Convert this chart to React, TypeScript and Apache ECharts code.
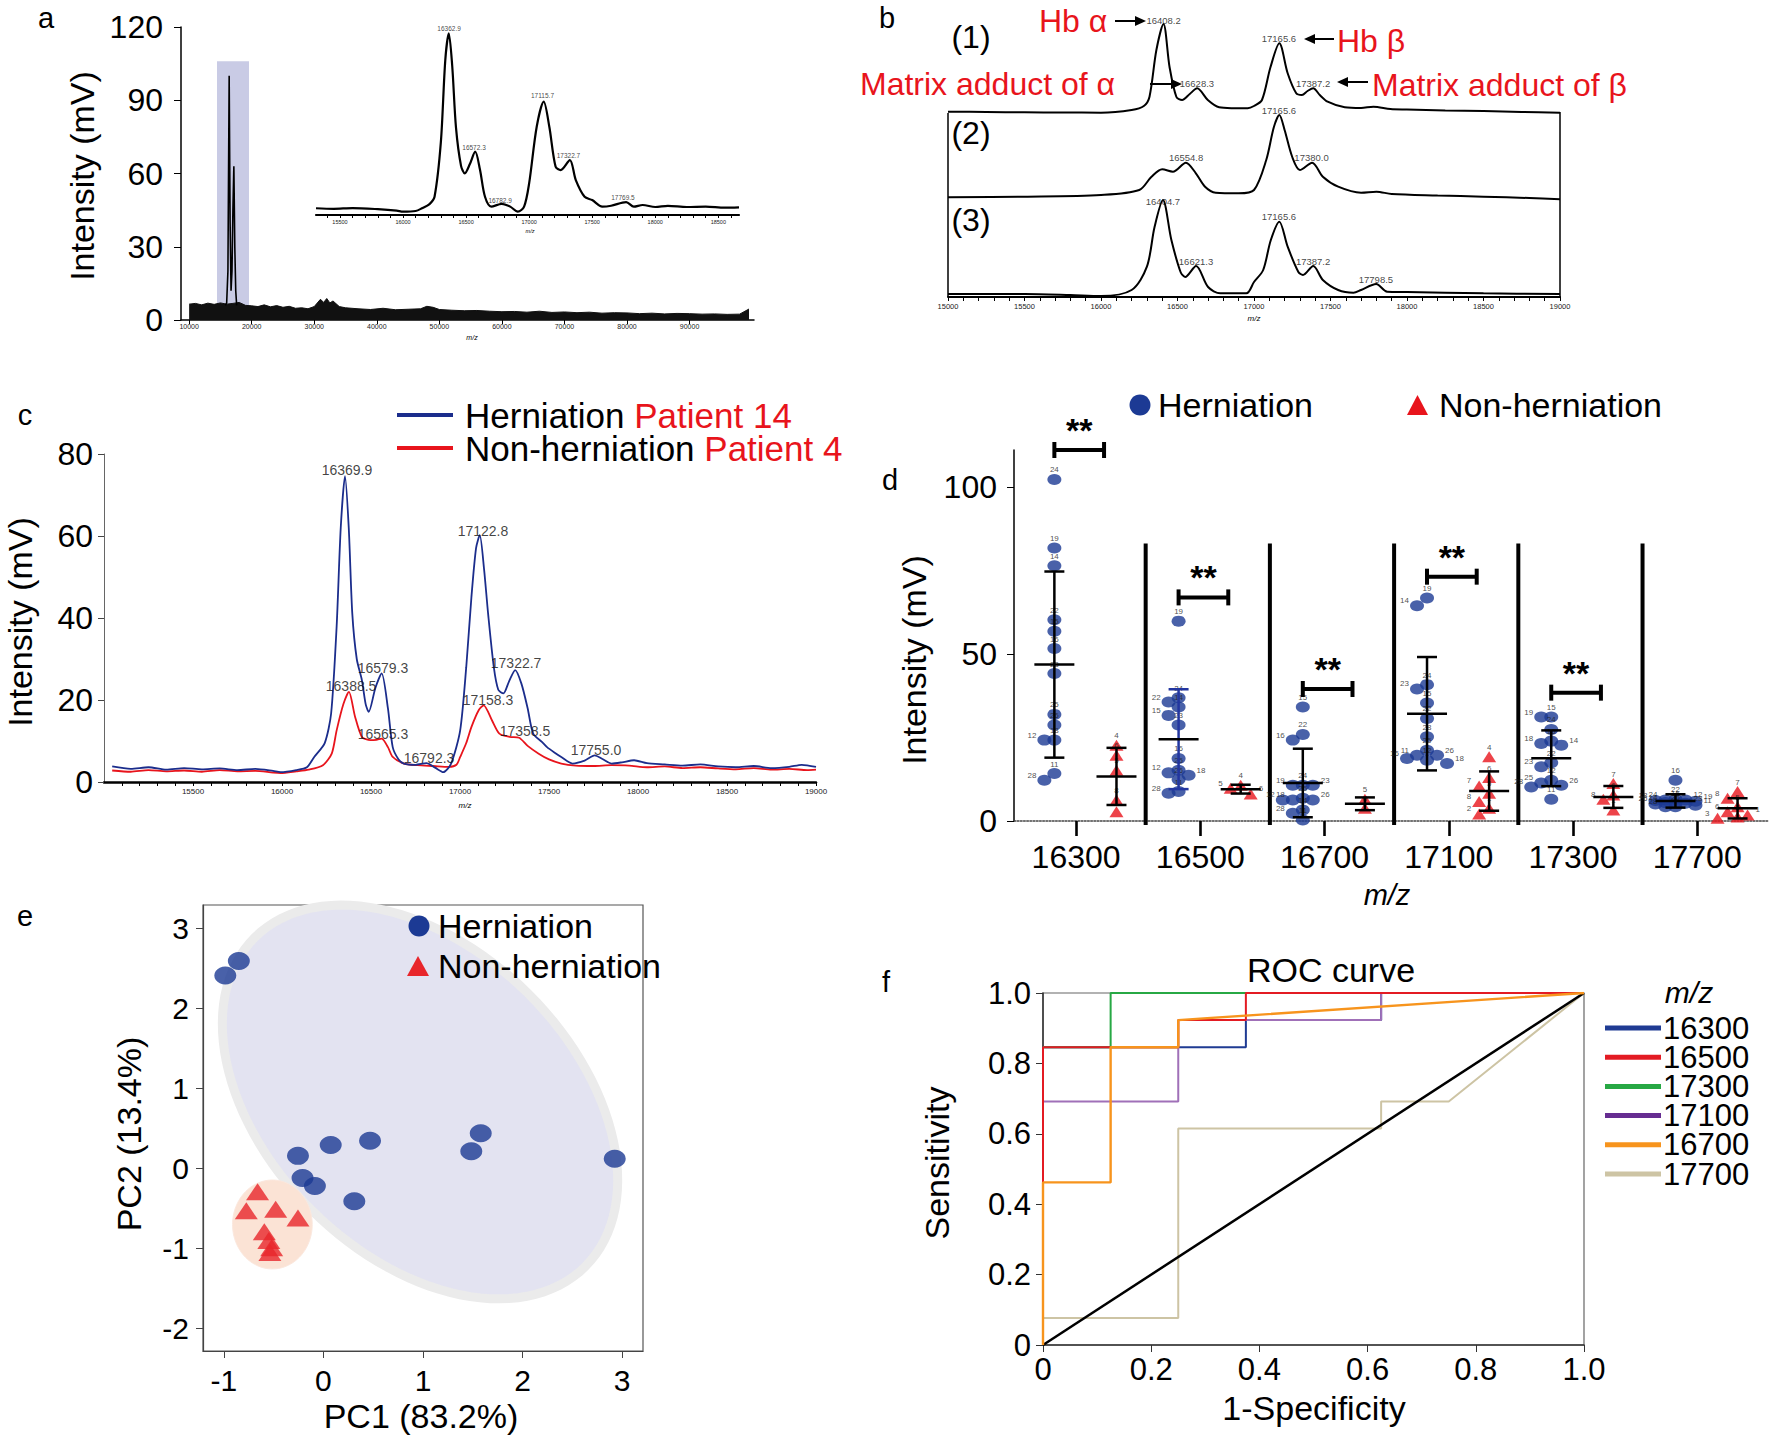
import React, { useEffect, useRef } from "react";
import * as echarts from "echarts";

const FONT = '"Liberation Sans", Arial, Helvetica, sans-serif';
const NAVY = "#1b2d8c";
const DOT = "#1c3a94";
const RED = "#e8141c";

// ---------- panel a : full-range spectrum ----------
const overviewBandMz = [10000,11000,12000,13000,14000,15000,16000,17000,18000,19000,20000,21000,22000,23000,24000,25000,26000,27000,28000,29000,30000,31000,31500,32000,32500,33000,34000,35000,37000,39000,41000,43000,45000,47000,48000,49000,50000,52000,54000,56000,58000,60000,62000,64000,66000,68000,70000,72000,74000,76000,78000,80000,82000,84000,86000,88000,90000,92000,94000,96000,98000,99500];
const overviewBandTop = [6.5,6.8,6.2,6.9,6.4,7.0,6.5,6.8,7.2,6.0,5.8,5.5,6.2,5.4,5.9,5.2,5.6,4.8,5.0,4.6,5.5,8.5,7.2,8.8,7.0,7.8,5.5,5.0,4.6,4.3,4.8,4.2,4.4,4.6,5.6,5.2,4.3,4.0,3.8,3.9,3.6,3.4,3.5,3.2,3.6,3.1,3.3,3.0,3.2,2.8,3.0,2.9,2.6,2.8,2.5,2.7,2.6,2.4,2.5,2.3,2.4,4.5];
const overviewPeaks = [[15800,6],[16000,7],[16200,20],[16400,100],[16550,40],[16700,12],[16850,20],[17000,45],[17150,63],[17300,30],[17450,12],[17600,6]];
const overviewTicks = [10000,20000,30000,40000,50000,60000,70000,80000,90000];
const highlightMz = [14455, 19571];
const highlightTop = 106;

// ---------- panel a : inset ----------
const insetSpectrum = [[15310,3.7],[15450,3.4],[15600,3.8],[15800,3.2],[15950,2.4],[16000,1.8],[16100,2.2],[16150,3.7],[16210,6],[16250,10],[16300,40],[16335,85],[16362.9,99.8],[16390,82],[16420,48],[16460,27],[16490,22.9],[16530,28],[16572.3,34.8],[16610,25],[16650,10],[16700,4.6],[16782.9,6.1],[16850,4.6],[16910,1.8],[16960,4.6],[17000,17.4],[17060,48.5],[17115.7,62.3],[17160,48.5],[17210,26.5],[17250,24.7],[17322.7,30.2],[17370,19.2],[17440,10],[17500,8.2],[17580,4.6],[17650,5.1],[17769.5,7.1],[17830,4.6],[17900,5.5],[18000,4.4],[18100,5.0],[18250,4.4],[18400,4.6],[18550,4.0],[18664,4.2]];
const insetPeakLabels = [[16365,102.5,"16362.9"],[16563,37,"16572.3"],[16770,8.2,"16782.9"],[17106,65.5,"17115.7"],[17312,32.5,"17322.7"],[17744,9.5,"17769.5"]];

// ---------- panel b : three spectra ----------
const spectrumB1 = [[15000,3.3],[15250,3],[15500,2.7],[15750,2.5],[16000,2.3],[16200,5],[16280,9],[16317,18.3],[16362,65],[16408.2,91],[16448,48],[16493,18],[16530,15],[16580,21],[16628.3,26.7],[16698,15],[16772,7.7],[16870,6.8],[16959,6.7],[17000,9],[17052,15],[17108,48],[17165.6,71.7],[17220,41.7],[17276,21.7],[17313,20],[17350,24],[17387.2,26.7],[17430,20],[17481,13.3],[17593,7.7],[17700,7],[17780,8.3],[17892,6],[18000,5.5],[18250,4.5],[18500,4],[18750,3],[19000,2.3]];
const spectrumB2 = [[15000,2.7],[15500,3.3],[16000,5],[16250,10],[16330,23.3],[16400,30.7],[16470,28.3],[16554.8,37.3],[16620,26.7],[16680,13.3],[16750,7.3],[16900,6.7],[17000,10],[17080,40],[17130,73],[17165.6,85],[17200,70],[17250,43],[17300,30],[17380,37.3],[17450,23.3],[17550,13.3],[17700,7.3],[17800,8.3],[17900,6],[18200,4.5],[18500,3.3],[18800,2],[19000,0.7]];
const spectrumB3 = [[15000,3],[15500,3],[15800,2],[16000,1],[16200,7],[16300,30.3],[16350,70],[16404.7,97],[16460,57],[16520,25],[16550,20],[16621.3,31],[16700,10],[16780,3.7],[16950,3.7],[17000,15],[17060,27],[17110,57],[17165.6,75.3],[17220,50.3],[17290,25],[17320,22],[17387.2,31],[17450,17],[17550,7],[17650,4.3],[17700,7],[17798.5,13],[17870,5.3],[18000,5],[18500,3.7],[19000,3]];
const peakLabelsB1 = [[16409,95,"16408.2"],[16627,32,"16628.3"],[17163,77,"17165.6"],[17386,32,"17387.2"]];
const peakLabelsB2 = [[17163,90,"17165.6"],[16556,43,"16554.8"],[17376,43,"17380.0"]];
const peakLabelsB3 = [[16405,96,"16404.7"],[16621,36,"16621.3"],[17163,81,"17165.6"],[17386,36,"17387.2"],[17797,18,"17798.5"]];

// ---------- panel c : patient spectra ----------
const herniationSpectrum = [[15046,3.8],[15150,3.2],[15250,3.6],[15350,3.0],[15450,3.4],[15550,3.1],[15650,3.3],[15750,2.9],[15850,3.2],[15950,2.7],[15992,2.4],[16080,2.9],[16140,3.6],[16181,6.1],[16240,9.5],[16276,16.7],[16307,38],[16330,62],[16354,74.6],[16375,62],[16395,41],[16420,30],[16449,24.8],[16470,19],[16487,17.1],[16525,23],[16560,26.5],[16595,18],[16622,8.5],[16655,5.5],[16685,4.5],[16750,4.2],[16812,4.6],[16860,3.5],[16906,2.4],[16950,4.5],[17001,12.6],[17035,28],[17064,45],[17090,57],[17111,60.2],[17135,52],[17158,41],[17190,28],[17215,22.5],[17244,21.6],[17275,24.5],[17310,27.3],[17345,24],[17380,18],[17411,11.8],[17460,9.8],[17489,8.5],[17530,7.2],[17569,6.1],[17632,4.5],[17700,5.2],[17757,6.5],[17800,5.6],[17852,4.5],[17910,4.8],[17978,5.3],[18050,4.6],[18150,4.3],[18250,4.0],[18350,4.3],[18450,3.8],[18550,3.6],[18650,3.9],[18750,3.4],[18850,3.7],[18920,4.2],[19000,3.7]];
const nonHerniationSpectrum = [[15046,2.8],[15150,2.5],[15250,2.9],[15350,2.6],[15450,2.8],[15550,2.5],[15650,2.9],[15750,2.6],[15850,2.7],[15950,2.3],[15992,2.2],[16080,2.6],[16150,3.0],[16230,4.1],[16280,7],[16307,12.6],[16345,19],[16376,22],[16410,16],[16449,11],[16497,10.2],[16530,10.3],[16560,10.6],[16595,8.5],[16622,6.1],[16685,4.5],[16760,4.1],[16850,3.9],[16938,3.7],[16980,4.2],[17001,6.1],[17035,9.5],[17064,13.4],[17105,17.5],[17133,18.7],[17180,15],[17221,11.8],[17280,11],[17332,10.8],[17380,8.8],[17442,6.9],[17500,5.5],[17569,4.5],[17650,4.0],[17750,3.9],[17850,4.1],[17950,4.0],[18050,3.6],[18150,3.8],[18250,3.4],[18350,3.6],[18450,3.3],[18550,3.1],[18650,3.4],[18750,3.0],[18850,3.2],[18950,2.9],[19000,3.0]];
const peakLabelsC = [[16365,76.1,"16369.9"],[17129,61.2,"17122.8"],[16567,27.8,"16579.3"],[17315,29.0,"17322.7"],[17764,7.8,"17755.0"],[16388,23.4,"16388.5"],[17157,20.0,"17158.3"],[16567,11.7,"16565.3"],[17365,12.4,"17358.5"],[16826,5.9,"16792.3"]];

// ---------- panel d : per-peak intensities [patient id, mV] ----------
const mzCategories = ["16300","16500","16700","17100","17300","17700"];
const herniation16300 = [[24,102.2],[19,81.7],[14,76.4],[22,60.2],[15,56.8],[16,51.6],[23,44.1],[25,31.9],[26,28.7],[18,24.2],[12,24.2],[11,14.2],[28,12.2]];
const nonHerniation16300 = [[4,22.7],[6,19.7],[5,15.2],[8,6.3],[1,2.8]];
const herniation16500 = [[19,59.8],[24,36.9],[22,35.6],[14,34.1],[15,31.6],[23,28.7],[16,18.7],[25,15.2],[12,14.4],[18,13.7],[26,12.4],[11,8.8],[28,8.3]];
const nonHerniation16500 = [[4,10.7],[5,9.8],[6,8.1]];
const herniation16700 = [[15,34.1],[22,25.9],[16,24.2],[24,10.7],[19,10.7],[23,10.7],[18,6.3],[26,6.3],[12,6.3],[25,6.8],[14,3.3],[28,2.3],[11,0.3]];
const nonHerniation16700 = [[5,6.5],[6,3.8]];
const herniation17100 = [[19,66.7],[14,64.4],[24,40.8],[23,39.5],[15,35.3],[22,30.7],[28,25.2],[25,21.2],[11,19.7],[26,19.7],[16,18.7],[12,18.2],[18,17.2]];
const nonHerniation17100 = [[4,19.2],[6,13.0],[7,10.5],[5,8.3],[8,5.8],[1,3.8],[2,2.1]];
const herniation17300 = [[15,31.1],[19,31.1],[24,27.4],[16,23.9],[18,23.2],[14,22.7],[22,17.4],[23,16.2],[12,12.2],[25,11.4],[26,10.7],[28,10.2],[11,6.5]];
const nonHerniation17300 = [[7,11.2],[6,7.8],[8,6.5],[1,3.3]];
const herniation17700 = [[16,12.2],[22,6.5],[24,6.3],[12,6.3],[18,6.1],[19,5.9],[15,5.5],[14,5.5],[23,5.3],[26,5.1],[11,4.7],[25,4.3],[28,4.3]];
const nonHerniation17700 = [[7,8.8],[8,6.8],[5,4.3],[6,2.8],[1,1.8],[2,1.2],[3,0.8]];
const significanceHeights = [111, 66.9, 39.5, 73.1, 38.4];
const significanceMarks = ["**", "**", "**", "**", "**"];

// ---------- panel e : PCA scores ----------
const herniationPCA = [[-0.986,2.41],[-0.85,2.59],[-0.256,0.157],[0.073,0.293],[0.468,0.345],[1.58,0.44],[1.485,0.215],[2.926,0.12],[-0.21,-0.12],[-0.086,-0.22],[0.31,-0.41]];
const nonHerniationPCA = [[-0.662,-0.29],[-0.775,-0.53],[-0.48,-0.51],[-0.256,-0.62],[-0.594,-0.79],[-0.549,-0.9],[-0.52,-0.99],[-0.538,-1.05]];
// centre x, centre y, semi-axis 1 (dx, dy), semi-axis 2 (dx, dy), in PC units
const herniationEllipse = [0.97, 0.83, 1.66, -2.055, 1.09, 1.35];
const nonHerniationEllipse = [-0.513, -0.7, 0.4, 0, 0, 0.555];

// ---------- panel f : ROC curves ----------
const roc16300 = [[0,0],[0,0.846],[0.375,0.846],[0.375,0.923],[0.625,0.923],[0.625,1],[1,1]];
const roc16500 = [[0,0],[0,0.846],[0.25,0.846],[0.25,0.923],[0.375,0.923],[0.375,1],[1,1]];
const roc17300 = [[0,0],[0,0.846],[0.125,0.846],[0.125,1],[1,1]];
const roc17100 = [[0,0],[0,0.692],[0.25,0.692],[0.25,0.923],[0.625,0.923],[0.625,1],[1,1]];
const roc16700 = [[0,0],[0,0.462],[0.125,0.462],[0.125,0.846],[0.25,0.846],[0.25,0.923],[1,1]];
const roc17700 = [[0,0],[0,0.077],[0.25,0.077],[0.25,0.615],[0.625,0.615],[0.625,0.692],[0.75,0.692],[1,1]];
const rocChance = [[0,0],[1,1]];
const rocLegendNames = ["16300","16500","17300","17100","16700","17700"];

const ROC_COLORS: Record<string, string> = {
  "16300": "#1f3b93",
  "16500": "#e31b23",
  "17300": "#27a844",
  "17100": "#7b3f98",
  "16700": "#f7941d",
  "17700": "#cdc4a4",
};

function steps(a: number, b: number, s: number) {
  const r: number[] = [];
  for (let v = a; v <= b + 1e-6; v += s) r.push(Math.round(v * 1000) / 1000);
  return r;
}

function meanSd(vals: number[]) {
  const m = vals.reduce((s, v) => s + v, 0) / vals.length;
  const sd = vals.length > 1 ? Math.sqrt(vals.reduce((s, v) => s + (v - m) * (v - m), 0) / (vals.length - 1)) : 0;
  return [m, sd];
}

// simple beeswarm: horizontal slot per point so that near-equal values sit side by side
function swarm(vals: number[], pxPerY: number) {
  const order = vals.map((_, i) => i).sort((a, b) => vals[b] - vals[a]);
  const placed: { s: number; y: number }[] = [];
  const out = new Array(vals.length).fill(0);
  const slots = [0, -1, 1, -2, 2];
  for (const i of order) {
    const y = vals[i] * pxPerY;
    let best = 0, bestC = Infinity;
    for (const s of slots) {
      const c = placed.filter((p) => p.s === s && Math.abs(p.y - y) < 9).length;
      if (c < bestC) { bestC = c; best = s; }
      if (c === 0) break;
    }
    placed.push({ s: best, y });
    out[i] = best;
  }
  return out;
}

const BLUE_OFF = -0.175;
const RED_OFF = 0.325;
const plain = (v: number) => String(v);

function txt(x: number, y: number, text: string, fontSize: number, extra: any = {}, rotation = 0) {
  return {
    type: "text",
    x, y, rotation, silent: true, z: 100,
    style: {
      text, fontSize, fontFamily: FONT, fill: "#000",
      textAlign: "center", textVerticalAlign: "middle", verticalAlign: "middle",
      ...extra,
    },
  };
}

function hArrow(x1: number, x2: number, y: number, color = "#000") {
  const s = Math.sign(x2 - x1);
  return [
    { type: "line", silent: true, z: 100, shape: { x1, y1: y, x2: x2 - s * 6, y2: y }, style: { stroke: color, lineWidth: 2 } },
    { type: "polygon", silent: true, z: 100, shape: { points: [[x2, y], [x2 - s * 11, y - 5], [x2 - s * 11, y + 5]] }, style: { fill: color } },
  ];
}

function buildOption() {
  const herniationGroups = [herniation16300, herniation16500, herniation16700, herniation17100, herniation17300, herniation17700];
  const nonGroups = [nonHerniation16300, nonHerniation16500, nonHerniation16700, nonHerniation17100, nonHerniation17300, nonHerniation17700];
  const PXX = 124.2, PXY = 3.35, STEP = 10;

  const pointItem = (x: number, v: number, id: number, slot: number) => ({
    value: [x, v, id],
    label: slot < 0
      ? { position: "left", distance: 1, offset: [0, -5] }
      : slot > 0
        ? { position: "right", distance: 1, offset: [0, -5] }
        : { position: "top", distance: 0 },
  });

  const hPoints: any[] = [];
  const nPoints: any[] = [];
  const errBars: any[] = [];
  herniationGroups.forEach((g, ci) => {
    const vals = g.map((d) => d[1]);
    const slots = swarm(vals, PXY);
    g.forEach((d, i) => hPoints.push(pointItem(ci + BLUE_OFF + (slots[i] * STEP) / PXX, d[1], d[0], slots[i])));
    const [m, sd] = meanSd(vals);
    errBars.push([ci + BLUE_OFF, m, sd, ci === 1 ? 1 : 0]);
  });
  nonGroups.forEach((g, ci) => {
    const vals = g.map((d) => d[1]);
    const slots = swarm(vals, PXY);
    g.forEach((d, i) => nPoints.push(pointItem(ci + RED_OFF + (slots[i] * STEP) / PXX, d[1], d[0], slots[i])));
    const [m, sd] = meanSd(vals);
    errBars.push([ci + RED_OFF, m, sd, 0]);
  });

  const axLine = (color: string, width: number, extra: any = {}) => ({ show: true, onZero: false, lineStyle: { color, width, ...extra } });
  const base = (extra: any = {}) => ({
    axisLine: axLine("#000", 1.5),
    splitLine: { show: false },
    ...extra,
  });

  const grid = [
    { left: 181, top: 27, width: 573, height: 293 },      // 0 a
    { left: 316, top: 33, width: 423, height: 182 },      // 1 a inset
    { left: 948, top: 15, width: 612, height: 100 },      // 2 b1
    { left: 948, top: 100, width: 612, height: 100 },     // 3 b2
    { left: 948, top: 197, width: 612, height: 100 },     // 4 b3
    { left: 104, top: 454, width: 712, height: 328 },     // 5 c
    { left: 1014, top: 450, width: 754, height: 371 },    // 6 d
    { left: 203, top: 905, width: 440, height: 446, show: true, borderColor: "#555", borderWidth: 1.2 }, // 7 e
    { left: 1043, top: 993, width: 541, height: 352, show: true, borderColor: "#666", borderWidth: 1.2 }, // 8 f
  ];

  const tiny = (size: number, margin: number) => ({ fontSize: size, margin, color: "#222", formatter: plain });

  const xAxis: any[] = [
    base({ gridIndex: 0, type: "value", min: 8700, max: 100300,
      axisTick: { show: true, customValues: overviewTicks, length: 4, lineStyle: { color: "#000" } },
      axisLabel: { ...tiny(7, 3), customValues: overviewTicks } }),
    base({ gridIndex: 1, type: "value", min: 15310, max: 18664,
      axisLine: axLine("#000", 2.2),
      axisTick: { show: true, customValues: steps(15400, 18600, 100), length: 3, lineStyle: { color: "#000" } },
      axisLabel: { ...tiny(5.5, 4), customValues: steps(15500, 18500, 500) } }),
    { gridIndex: 2, type: "value", min: 15000, max: 19000, show: false },
    { gridIndex: 3, type: "value", min: 15000, max: 19000, show: false },
    base({ gridIndex: 4, type: "value", min: 15000, max: 19000,
      axisLine: axLine("#000", 2),
      axisTick: { show: true, customValues: steps(15000, 19000, 100), length: 4, lineStyle: { color: "#000" } },
      axisLabel: { ...tiny(7.5, 5), customValues: steps(15000, 19000, 500) } }),
    base({ gridIndex: 5, type: "value", min: 15000, max: 19000,
      axisLine: axLine("#000", 2.5),
      axisTick: { show: true, customValues: steps(15100, 19000, 100), length: 4, lineStyle: { color: "#000" } },
      axisLabel: { ...tiny(8, 5), customValues: steps(15500, 19000, 500) } }),
    base({ gridIndex: 6, type: "value", min: -0.5, max: 5.57,
      axisLine: axLine("#444", 1.6, { type: "dotted" }),
      axisTick: { show: true, customValues: [0, 1, 2, 3, 4, 5], length: 15, lineStyle: { color: "#000", width: 2.6 } },
      axisLabel: { customValues: [0, 1, 2, 3, 4, 5], fontSize: 32, margin: 20, color: "#000",
        formatter: (v: number) => mzCategories[Math.round(v)] } }),
    base({ gridIndex: 7, type: "value", min: -1.21, max: 3.21,
      axisLine: axLine("#444", 1.2),
      axisTick: { show: true, customValues: [-1, 0, 1, 2, 3], length: 7, lineStyle: { color: "#444" } },
      axisLabel: { customValues: [-1, 0, 1, 2, 3], fontSize: 30, margin: 14, color: "#000", formatter: plain } }),
    base({ gridIndex: 8, type: "value", min: 0, max: 1, interval: 0.2,
      axisLine: axLine("#333", 1.5),
      axisTick: { show: true, length: 7, lineStyle: { color: "#333" } },
      axisLabel: { fontSize: 31, margin: 9, color: "#000", formatter: (v: number) => (v === 0 ? "0" : v.toFixed(1)) } }),
  ];

  const yAxis: any[] = [
    base({ gridIndex: 0, type: "value", min: 0, max: 120, interval: 30,
      axisTick: { show: true, length: 7, lineStyle: { color: "#000" } },
      axisLabel: { fontSize: 32, margin: 18, color: "#000", formatter: plain } }),
    { gridIndex: 1, type: "value", min: 0, max: 100, show: false },
    { gridIndex: 2, type: "value", min: 0, max: 100, show: false },
    { gridIndex: 3, type: "value", min: 0, max: 100, show: false },
    { gridIndex: 4, type: "value", min: 0, max: 100, show: false },
    base({ gridIndex: 5, type: "value", min: 0, max: 80, interval: 20,
      axisLine: axLine("#666", 1),
      axisTick: { show: true, length: 6, lineStyle: { color: "#444" } },
      axisLabel: { fontSize: 32, margin: 11, color: "#000", formatter: plain } }),
    base({ gridIndex: 6, type: "value", min: 0, max: 111,
      axisTick: { show: true, customValues: [0, 50, 100], length: 7, lineStyle: { color: "#000" } },
      axisLabel: { customValues: [0, 50, 100], fontSize: 32, margin: 17, color: "#000", formatter: plain } }),
    base({ gridIndex: 7, type: "value", min: -2.28, max: 3.29,
      axisLine: axLine("#444", 1.2),
      axisTick: { show: true, customValues: [-2, -1, 0, 1, 2, 3], length: 7, lineStyle: { color: "#444" } },
      axisLabel: { customValues: [-2, -1, 0, 1, 2, 3], fontSize: 30, margin: 14, color: "#000", formatter: plain } }),
    base({ gridIndex: 8, type: "value", min: 0, max: 1, interval: 0.2,
      axisLine: axLine("#333", 1.5),
      axisTick: { show: true, length: 7, lineStyle: { color: "#333" } },
      axisLabel: { fontSize: 31, margin: 12, color: "#000", formatter: (v: number) => (v === 0 ? "0" : v.toFixed(1)) } }),
  ];

  const line = (ax: number, data: any[], color: string, width: number, extra: any = {}) => ({
    type: "line", xAxisIndex: ax, yAxisIndex: ax, data, symbol: "none", silent: true,
    lineStyle: { color, width }, ...extra,
  });
  const labelSeries = (ax: number, data: any[], fontSize: number) => ({
    type: "scatter", xAxisIndex: ax, yAxisIndex: ax, data, symbolSize: 1, silent: true, clip: false, z: 5,
    itemStyle: { color: "rgba(0,0,0,0)" },
    label: { show: true, position: "inside", fontSize, color: "#111", formatter: (p: any) => p.value[2] },
  });
  const pointLabel = { show: true, fontSize: 8, color: "#222", formatter: (p: any) => String(p.value[2]) };

  const series: any[] = [
    // panel a
    {
      type: "line", xAxisIndex: 0, yAxisIndex: 0, data: [[highlightMz[0], 0]], symbol: "none", silent: true, z: 1,
      lineStyle: { opacity: 0 },
      markArea: { silent: true, itemStyle: { color: "#c9cbe5" },
        data: [[{ coord: [highlightMz[0], 0] }, { coord: [highlightMz[1], highlightTop] }]] },
    },
    line(0, overviewBandMz.map((m, i) => [m, overviewBandTop[i]]), "#111", 1, { z: 2, areaStyle: { color: "#111", opacity: 1 } }),
    line(0, overviewPeaks, "#000", 1.6, { z: 3 }),
    line(1, insetSpectrum, "#000", 2.2, { smooth: 0.3 }),
    labelSeries(1, insetPeakLabels, 6.5),
    // panel b
    line(2, spectrumB1, "#000", 2, { smooth: 0.3 }),
    line(3, spectrumB2, "#000", 2, { smooth: 0.3 }),
    line(4, spectrumB3, "#000", 2, { smooth: 0.3 }),
    labelSeries(2, peakLabelsB1, 9.5),
    labelSeries(3, peakLabelsB2, 9.5),
    labelSeries(4, peakLabelsB3, 9.5),
    // panel c
    line(5, nonHerniationSpectrum, RED, 1.8, { z: 3, smooth: 0.25 }),
    line(5, herniationSpectrum, NAVY, 1.8, { z: 4, smooth: 0.25 }),
    labelSeries(5, peakLabelsC, 14),
    // panel d separators
    {
      type: "custom", xAxisIndex: 6, yAxisIndex: 6, data: [[0], [1], [2], [3], [4]], silent: true, z: 2,
      encode: { x: 0 },
      renderItem: (_p: any, api: any) => {
        const x = api.value(0) + 0.56;
        const a = api.coord([x, 83]);
        const b = api.coord([x, -1.2]);
        return { type: "line", shape: { x1: a[0], y1: a[1], x2: b[0], y2: b[1] }, style: { stroke: "#000", lineWidth: 4 } };
      },
    },
    {
      type: "scatter", xAxisIndex: 6, yAxisIndex: 6, data: hPoints, symbol: "circle", symbolSize: [14, 11], silent: true, clip: false, z: 4,
      itemStyle: { color: DOT }, label: pointLabel,
    },
    {
      type: "scatter", xAxisIndex: 6, yAxisIndex: 6, data: nPoints, symbol: "triangle", symbolSize: [14, 11], silent: true, clip: false, z: 4,
      itemStyle: { color: RED }, label: pointLabel,
    },
    {
      type: "custom", xAxisIndex: 6, yAxisIndex: 6, data: errBars, silent: true, z: 5, encode: { x: 0, y: 1 },
      renderItem: (_p: any, api: any) => {
        const x = api.value(0), m = api.value(1), sd = api.value(2);
        const color = api.value(3) === 1 ? "#2336a0" : "#000";
        const c = api.coord([x, m]);
        const t = api.coord([x, m + sd]);
        const b = api.coord([x, m - sd]);
        const st = { stroke: color, lineWidth: 2.5 };
        return {
          type: "group",
          children: [
            { type: "line", shape: { x1: t[0], y1: t[1], x2: b[0], y2: b[1] }, style: st },
            { type: "line", shape: { x1: c[0] - 20, y1: c[1], x2: c[0] + 20, y2: c[1] }, style: { stroke: "#000", lineWidth: 2.5 } },
            { type: "line", shape: { x1: t[0] - 10, y1: t[1], x2: t[0] + 10, y2: t[1] }, style: st },
            { type: "line", shape: { x1: b[0] - 10, y1: b[1], x2: b[0] + 10, y2: b[1] }, style: st },
          ],
        };
      },
    },
    {
      type: "custom", xAxisIndex: 6, yAxisIndex: 6, silent: true, z: 5, encode: { x: 0, y: 1 },
      data: significanceHeights.map((h, i) => [i, h, significanceMarks[i]]),
      renderItem: (_p: any, api: any) => {
        const ci = api.value(0), h = api.value(1);
        const a = api.coord([ci + BLUE_OFF, h]);
        const b = api.coord([ci + BLUE_OFF + 0.4, h]);
        const st = { stroke: "#000", lineWidth: 4 };
        return {
          type: "group",
          children: [
            { type: "line", shape: { x1: a[0], y1: a[1], x2: b[0], y2: b[1] }, style: st },
            { type: "line", shape: { x1: a[0], y1: a[1] - 8, x2: a[0], y2: a[1] + 8 }, style: st },
            { type: "line", shape: { x1: b[0], y1: b[1] - 8, x2: b[0], y2: b[1] + 8 }, style: st },
            { type: "text", x: (a[0] + b[0]) / 2, y: a[1] - 20, style: { text: significanceMarks[ci], fontSize: 34, fontFamily: FONT, fontWeight: "bold", fill: "#000", textAlign: "center", textVerticalAlign: "middle", verticalAlign: "middle" } },
          ],
        };
      },
    },
    // panel e
    ...[
      { d: herniationEllipse, fill: "#e3e3f1", stroke: "#ebebeb", lw: 9 },
      { d: nonHerniationEllipse, fill: "#fbe3d5", stroke: "#fbe8de", lw: 1 },
    ].map((e) => ({
      type: "custom", xAxisIndex: 7, yAxisIndex: 7, data: [e.d], silent: true, z: 1, encode: { x: 0, y: 1 },
      renderItem: (_p: any, api: any) => {
        const cx = api.value(0), cy = api.value(1), ux = api.value(2), uy = api.value(3), vx = api.value(4), vy = api.value(5);
        const pts: number[][] = [];
        for (let k = 0; k < 120; k++) {
          const t = (k / 120) * Math.PI * 2;
          pts.push(api.coord([cx + ux * Math.cos(t) + vx * Math.sin(t), cy + uy * Math.cos(t) + vy * Math.sin(t)]));
        }
        return { type: "polygon", shape: { points: pts }, style: { fill: e.fill, stroke: e.stroke, lineWidth: e.lw } };
      },
    })),
    { type: "scatter", xAxisIndex: 7, yAxisIndex: 7, data: herniationPCA, symbol: "circle", symbolSize: [22, 18], itemStyle: { color: DOT }, silent: true, z: 3 },
    { type: "scatter", xAxisIndex: 7, yAxisIndex: 7, data: nonHerniationPCA, symbol: "triangle", symbolSize: [23, 17], itemStyle: { color: "#e8262b" }, silent: true, z: 3 },
    // panel f
    line(8, roc17700, ROC_COLORS["17700"], 2),
    line(8, rocChance, "#000", 2.5),
    line(8, roc16300, ROC_COLORS["16300"], 2),
    line(8, roc17100, "#a070b8", 2),
    line(8, roc17300, ROC_COLORS["17300"], 2),
    line(8, roc16500, ROC_COLORS["16500"], 2),
    line(8, roc16700, ROC_COLORS["16700"], 2.4),
  ];

  const g: any[] = [];
  // panel letters
  g.push(txt(46, 18, "a", 29), txt(887, 18, "b", 29), txt(25, 415, "c", 29), txt(890, 480, "d", 29), txt(25, 916, "e", 29), txt(886, 982, "f", 29));
  // axis titles
  g.push(txt(82, 176, "Intensity (mV)", 34, {}, Math.PI / 2));
  g.push(txt(20, 622, "Intensity (mV)", 34, {}, Math.PI / 2));
  g.push(txt(914, 660, "Intensity (mV)", 34, {}, Math.PI / 2));
  g.push(txt(129, 1134, "PC2 (13.4%)", 34, {}, Math.PI / 2));
  g.push(txt(937, 1163, "Sensitivity", 34, {}, Math.PI / 2));
  g.push(txt(421, 1416, "PC1 (83.2%)", 34));
  g.push(txt(1314, 1408, "1-Specificity", 34));
  g.push(txt(1331, 970, "ROC curve", 34));
  g.push(txt(1387, 895, "m/z", 29, { fontStyle: "italic" }));
  g.push(txt(472, 337, "m/z", 7, { fontStyle: "italic" }));
  g.push(txt(530, 231, "m/z", 5.5, { fontStyle: "italic" }));
  g.push(txt(1254, 318, "m/z", 8, { fontStyle: "italic" }));
  g.push(txt(465, 805, "m/z", 8, { fontStyle: "italic" }));
  // panel b annotations
  g.push(txt(971, 37, "(1)", 32), txt(971, 133, "(2)", 32), txt(971, 220, "(3)", 32));
  g.push(txt(1039, 21, "Hb α", 32, { fill: RED, textAlign: "left" }));
  g.push(...hArrow(1115, 1146, 21));
  g.push(txt(860, 84, "Matrix adduct of α", 32, { fill: RED, textAlign: "left" }));
  g.push(...hArrow(1150, 1182, 84));
  g.push(...hArrow(1334, 1304, 39));
  g.push(txt(1337, 41, "Hb β", 32, { fill: RED, textAlign: "left" }));
  g.push(...hArrow(1368, 1337, 82));
  g.push(txt(1372, 85, "Matrix adduct of β", 32, { fill: RED, textAlign: "left" }));
  // panel b frame
  g.push({ type: "line", silent: true, shape: { x1: 948, y1: 113, x2: 948, y2: 297 }, style: { stroke: "#000", lineWidth: 1.5 } });
  g.push({ type: "line", silent: true, shape: { x1: 1560, y1: 112, x2: 1560, y2: 297 }, style: { stroke: "#000", lineWidth: 1.5 } });
  // panel c legend
  g.push({ type: "line", silent: true, shape: { x1: 397, y1: 415, x2: 453, y2: 415 }, style: { stroke: NAVY, lineWidth: 4 } });
  g.push({ type: "line", silent: true, shape: { x1: 397, y1: 448, x2: 453, y2: 448 }, style: { stroke: RED, lineWidth: 4 } });
  const rich = {
    k: { fontSize: 35, fontFamily: FONT, fill: "#000", color: "#000" },
    r: { fontSize: 35, fontFamily: FONT, fill: RED, color: RED },
  };
  g.push(txt(465, 415, "{k|Herniation} {r|Patient 14}", 35, { textAlign: "left", rich }));
  g.push(txt(465, 448, "{k|Non-herniation} {r|Patient 4}", 35, { textAlign: "left", rich }));
  // panel d legend
  g.push({ type: "ellipse", silent: true, shape: { cx: 1140, cy: 405, rx: 10.5, ry: 10.5 }, style: { fill: DOT } });
  g.push(txt(1158, 405, "Herniation", 34, { textAlign: "left" }));
  g.push({ type: "polygon", silent: true, shape: { points: [[1407, 415], [1428, 415], [1417.5, 395]] }, style: { fill: RED } });
  g.push(txt(1439, 405, "Non-herniation", 34, { textAlign: "left" }));
  // panel e legend
  g.push({ type: "ellipse", silent: true, z: 50, shape: { cx: 419, cy: 926, rx: 10.5, ry: 10.5 }, style: { fill: DOT } });
  g.push(txt(438, 926, "Herniation", 34, { textAlign: "left" }));
  g.push({ type: "polygon", silent: true, z: 50, shape: { points: [[407, 976], [429, 976], [418, 956]] }, style: { fill: "#e8262b" } });
  g.push(txt(438, 966, "Non-herniation", 34, { textAlign: "left" }));
  // panel f legend
  g.push(txt(1689, 992, "m/z", 30, { fontStyle: "italic" }));
  rocLegendNames.forEach((n, i) => {
    const y = 1028 + i * 29.2;
    g.push({ type: "line", silent: true, shape: { x1: 1605, y1: y, x2: 1661, y2: y }, style: { stroke: n === "17100" ? "#662d91" : ROC_COLORS[n], lineWidth: 5 } });
    g.push(txt(1663, y, n, 31, { textAlign: "left" }));
  });

  return {
    animation: false,
    backgroundColor: "#fff",
    textStyle: { fontFamily: FONT, color: "#000" },
    grid, xAxis, yAxis, series,
    graphic: { elements: g },
  };
}

export default function App() {
  const ref = useRef<HTMLDivElement>(null);
  useEffect(() => {
    document.body.style.margin = "0";
    if (!ref.current) return;
    const chart = echarts.init(ref.current, undefined, { renderer: "svg" });
    chart.setOption(buildOption() as any);
    return () => chart.dispose();
  }, []);
  return <div ref={ref} style={{ width: 1770, height: 1440, background: "#fff" }} />;
}
